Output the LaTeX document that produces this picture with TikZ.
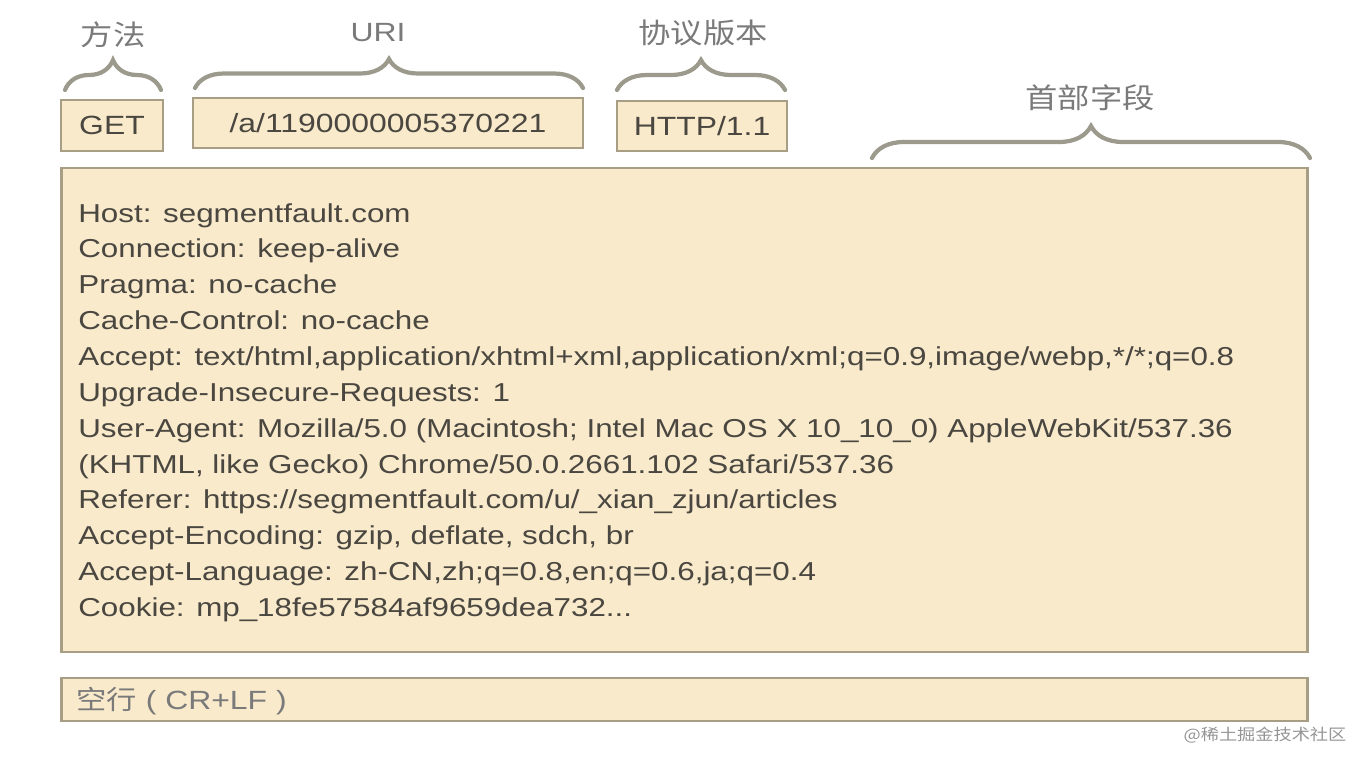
\documentclass[tikz,border=0pt]{standalone}
\usepackage{fontspec}
\setmainfont[FakeStretch=1.21]{Liberation Sans}
\newfontfamily\cjk[FakeStretch=1.15]{Noto Sans CJK SC}
\usetikzlibrary{decorations.pathreplacing}
\definecolor{boxfill}{HTML}{F8EACB}
\definecolor{boxline}{HTML}{A89E86}
\definecolor{bracegray}{HTML}{9C9A8C}
\definecolor{labelgray}{HTML}{7A7A7A}
\definecolor{textgray}{HTML}{4A4640}
\tikzset{
    field/.style={
    rectangle,draw=boxline,fill=boxfill,line width=1.6pt,text=textgray,
    font=\fontsize{15}{18}\selectfont,inner sep=0pt
    },
    part/.style={
    text=labelgray,font=\cjk\fontsize{16}{18}\selectfont
    },
    bracket/.style={
    draw=bracegray,line width=2.4pt,line cap=round,decorate,
    decoration={brace,amplitude=#1}
    },
    bracket/.default=0.62cm,
}

\begin{document}
\begin{tikzpicture}[x=0.02cm,y=0.02cm]
   \useasboundingbox (0,0) rectangle (1367,-767);

   %request line
   \node[field,minimum width=2.04cm,minimum height=1.02cm] (method) at (112,-125.5) {GET};
   \node[field,minimum width=7.8cm,minimum height=1cm] (uri) at (388,-123) {/a/1190000005370221};
   \node[field,minimum width=3.4cm,minimum height=1cm] (version) at (702,-126) {HTTP/1.1};

   %header fields
   \node[field,minimum width=24.94cm,minimum height=9.68cm] (headers) at (684.5,-410) {};
   \node[anchor=north west,align=left,text=textgray,inner sep=0pt,
         font=\fontsize{14.75}{20.4}\selectfont] (lines) at (78,-203) {%
      Host: segmentfault.com\\
      Connection: keep-alive\\
      Pragma: no-cache\\
      Cache-Control: no-cache\\
      Accept: text/html,application/xhtml+xml,application/xml;q=0.9,image/webp,*/*;q=0.8\\
      Upgrade-Insecure-Requests: 1\\
      User-Agent: Mozilla/5.0 (Macintosh; Intel Mac OS X 10\_10\_0) AppleWebKit/537.36\\
      (KHTML, like Gecko) Chrome/50.0.2661.102 Safari/537.36\\
      Referer: https://segmentfault.com/u/\_xian\_zjun/articles\\
      Accept-Encoding: gzip, deflate, sdch, br\\
      Accept-Language: zh-CN,zh;q=0.8,en;q=0.6,ja;q=0.4\\
      Cookie: mp\_18fe57584af9659dea732...};

   %blank line
   \node[field,minimum width=24.94cm,minimum height=0.86cm] (blank) at (684.5,-699.5) {};
   \node[anchor=west,text=labelgray,inner sep=0pt,font=\fontsize{15}{18}\selectfont]
      (crlf) at (76,-701) {{\cjk 空行} ( CR+LF )};

   %braces and their names
   \coordinate (b1l) at (65,-90);   \coordinate (b1r) at (161,-90);
   \coordinate (b2l) at (195,-88);  \coordinate (b2r) at (583,-88);
   \coordinate (b3l) at (617,-90);  \coordinate (b3r) at (785,-90);
   \coordinate (b4l) at (872,-158); \coordinate (b4r) at (1310,-158);
   \draw[bracket=0.6cm] (b1l) -- (b1r);
   \draw[bracket=0.58cm] (b2l) -- (b2r);
   \draw[bracket=0.6cm] (b3l) -- (b3r);
   \draw[bracket=0.64cm] (b4l) -- (b4r);

   \node[part] (methodname) at (113,-35) {方法};
   \node[part,font=\fontsize{15}{18}\selectfont] (uriname) at (378,-33) {URI};
   \node[part] (versionname) at (703,-33) {协议版本};
   \node[part] (headername) at (1090,-98) {首部字段};

   \node[text=labelgray!80,font=\cjk\fontsize{9}{11}\selectfont] (mark) at (1265,-735) {@稀土掘金技术社区};
\end{tikzpicture}
\end{document}
